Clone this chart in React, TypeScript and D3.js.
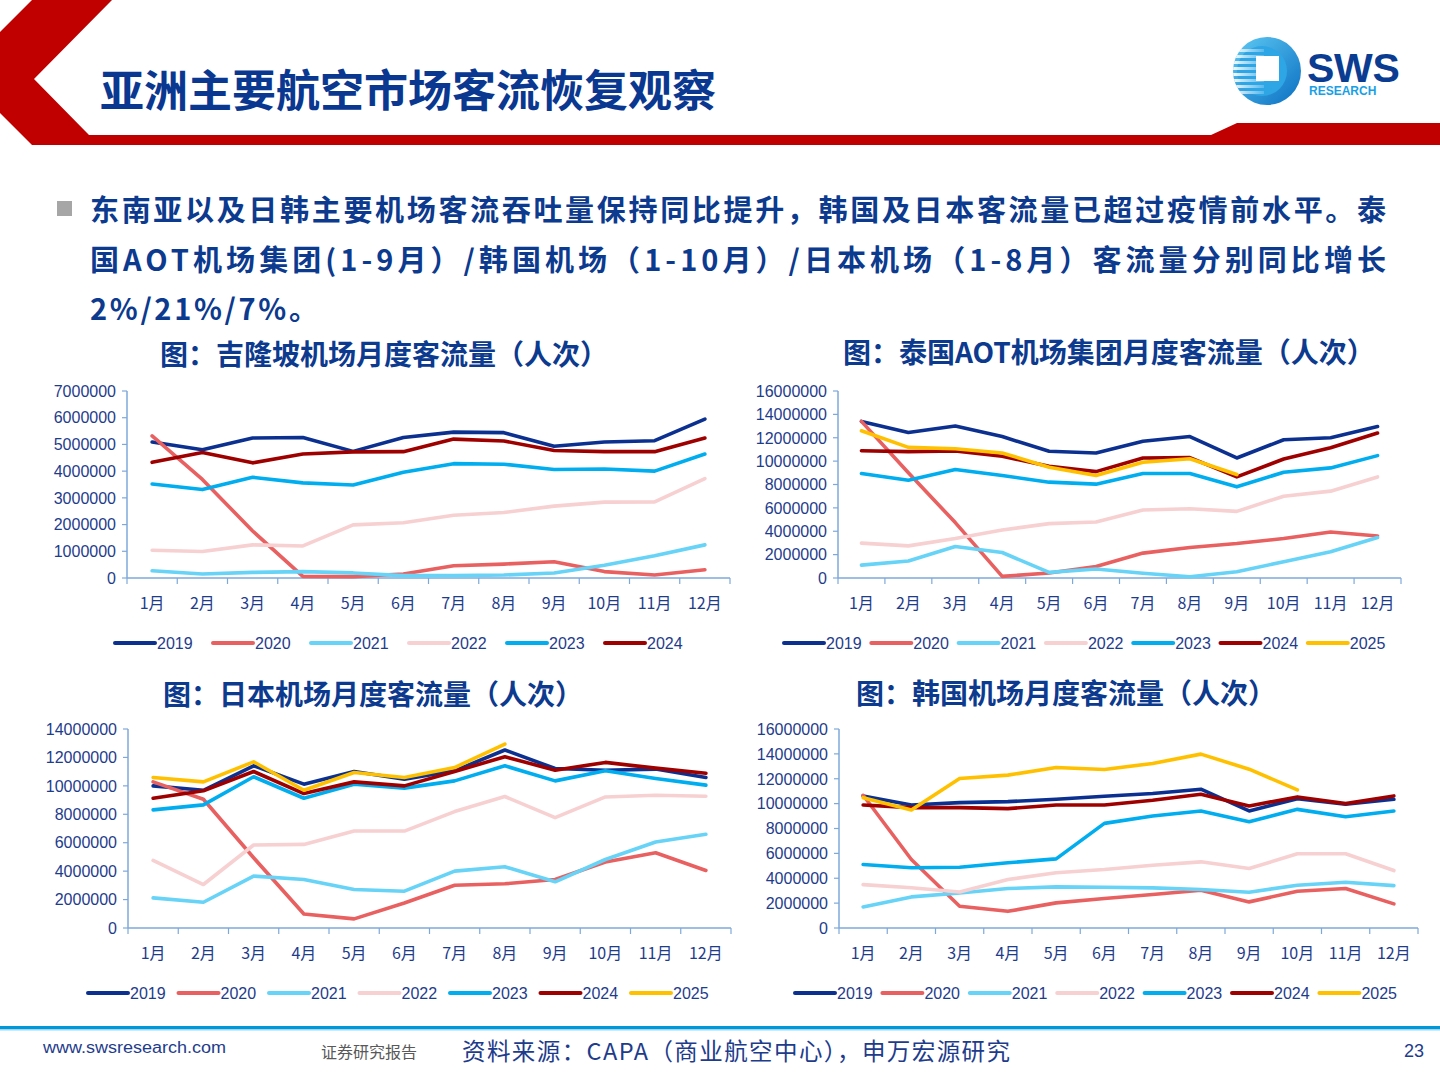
import * as d3 from "d3";

const MONTHS = ["1月", "2月", "3月", "4月", "5月", "6月", "7月", "8月", "9月", "10月", "11月", "12月"];

const YEAR_COLORS: Record<string, string> = {
  "2019": "#0B3090",
  "2020": "#E86060",
  "2021": "#66D3F7",
  "2022": "#F7D0D1",
  "2023": "#00AEEF",
  "2024": "#9E0000",
  "2025": "#FFC000",
};

// 吉隆坡 (单位: 人次)
const KUL_2019 = [5090000, 4800000, 5240000, 5260000, 4740000, 5260000, 5460000, 5440000, 4930000, 5090000, 5140000, 5950000];
const KUL_2020 = [5320000, 3690000, 1760000, 60000, 50000, 150000, 460000, 520000, 610000, 240000, 110000, 310000];
const KUL_2021 = [270000, 150000, 210000, 240000, 190000, 90000, 90000, 110000, 190000, 480000, 830000, 1240000];
const KUL_2022 = [1040000, 990000, 1240000, 1200000, 1990000, 2070000, 2350000, 2450000, 2690000, 2840000, 2850000, 3720000];
const KUL_2023 = [3520000, 3310000, 3770000, 3560000, 3480000, 3960000, 4280000, 4260000, 4060000, 4080000, 4000000, 4640000];
const KUL_2024 = [4330000, 4700000, 4310000, 4640000, 4720000, 4730000, 5200000, 5130000, 4770000, 4730000, 4730000, 5240000];

// 泰国AOT
const AOT_2019 = [13400000, 12450000, 13000000, 12100000, 10840000, 10700000, 11700000, 12100000, 10270000, 11830000, 12000000, 12960000];
const AOT_2020 = [13400000, 9000000, 4740000, 140000, 430000, 990000, 2130000, 2610000, 2950000, 3380000, 3940000, 3600000];
const AOT_2021 = [1100000, 1450000, 2700000, 2180000, 480000, 770000, 400000, 110000, 540000, 1390000, 2240000, 3460000];
const AOT_2022 = [2980000, 2750000, 3380000, 4110000, 4650000, 4790000, 5820000, 5930000, 5700000, 7000000, 7430000, 8650000];
const AOT_2023 = [8940000, 8370000, 9280000, 8770000, 8200000, 8030000, 8940000, 8940000, 7800000, 9050000, 9420000, 10470000];
const AOT_2024 = [10890000, 10810000, 10870000, 10410000, 9560000, 9100000, 10270000, 10300000, 8650000, 10180000, 11150000, 12400000];
const AOT_2025 = [12600000, 11180000, 11060000, 10700000, 9480000, 8770000, 9900000, 10210000, 8850000];

// 日本
const JPN_2019 = [10000000, 9690000, 11410000, 10120000, 11010000, 10470000, 11060000, 12520000, 11220000, 11100000, 11180000, 10590000];
const JPN_2020 = [10280000, 9060000, 4940000, 990000, 640000, 1760000, 3010000, 3110000, 3410000, 4640000, 5290000, 4050000];
const JPN_2021 = [2120000, 1810000, 3650000, 3410000, 2710000, 2590000, 4000000, 4310000, 3250000, 4820000, 6050000, 6590000];
const JPN_2022 = [4750000, 3060000, 5840000, 5880000, 6820000, 6820000, 8190000, 9250000, 7760000, 9220000, 9340000, 9270000];
const JPN_2023 = [8310000, 8660000, 10640000, 9130000, 10120000, 9840000, 10350000, 11410000, 10350000, 11060000, 10520000, 10050000];
const JPN_2024 = [9130000, 9650000, 11010000, 9460000, 10280000, 10000000, 11010000, 12050000, 11100000, 11650000, 11250000, 10890000];
const JPN_2025 = [10590000, 10280000, 11690000, 9690000, 10940000, 10590000, 11290000, 12940000];

// 韩国
const KOR_2019 = [10620000, 9890000, 10080000, 10160000, 10350000, 10590000, 10810000, 11160000, 9410000, 10400000, 9950000, 10350000];
const KOR_2020 = [10670000, 5510000, 1750000, 1340000, 2020000, 2370000, 2690000, 3040000, 2100000, 2960000, 3170000, 1940000];
const KOR_2021 = [1690000, 2500000, 2820000, 3170000, 3310000, 3280000, 3230000, 3090000, 2880000, 3440000, 3680000, 3410000];
const KOR_2022 = [3490000, 3230000, 2900000, 3900000, 4440000, 4700000, 5050000, 5320000, 4780000, 5970000, 5970000, 4620000];
const KOR_2023 = [5110000, 4840000, 4890000, 5240000, 5560000, 8410000, 9000000, 9410000, 8550000, 9540000, 8950000, 9410000];
const KOR_2024 = [9890000, 9680000, 9680000, 9600000, 9890000, 9890000, 10270000, 10750000, 9810000, 10540000, 10000000, 10620000];
const KOR_2025 = [10480000, 9490000, 12020000, 12290000, 12900000, 12740000, 13230000, 13980000, 12770000, 11100000];

const NAVY = "#0C3A8E";
const AXIS = "#7FA8DA";
const TICK_TEXT = "#1E3C8C";
const LATIN = "'Liberation Sans', Arial, sans-serif";
const CJK = "'Noto Sans CJK SC', sans-serif";

type Series = { year: string; values: number[] };

type ChartProps = {
  left: number;
  right: number;
  top: number;
  bottom: number;
  max: number;
  step: number;
  series: Series[];
  legendX: number;
  legendY: number;
  legendStep: number;
};

const LineChart = ({ left, right, top, bottom, max, step, series, legendX, legendY, legendStep }: ChartProps) => {
  const x = d3.scaleBand<string>().domain(MONTHS).range([left, right]).padding(0);
  const y = d3.scaleLinear().domain([0, max]).range([bottom, top]);
  const cx = (i: number) => (x(MONTHS[i]) ?? 0) + x.bandwidth() / 2;
  const line = d3
    .line<number>()
    .x((_, i) => cx(i))
    .y((d) => y(d));
  const yTicks = d3.range(0, max + 1, step);
  const bounds = [...MONTHS.map((m) => x(m) ?? 0), right];

  return (
    <g>
      {/* y axis */}
      <line x1={left} x2={left} y1={top} y2={bottom} stroke={AXIS} strokeWidth={1.5} />
      {yTicks.map((t) => (
        <g key={t}>
          <line x1={left - 5} x2={left} y1={y(t)} y2={y(t)} stroke={AXIS} strokeWidth={1.2} />
          <text
            x={left - 11}
            y={y(t)}
            dy="0.36em"
            textAnchor="end"
            fontSize={16}
            fontFamily={LATIN}
            fill={TICK_TEXT}
          >
            {d3.format("d")(t)}
          </text>
        </g>
      ))}
      {/* x axis */}
      <line x1={left} x2={right} y1={bottom} y2={bottom} stroke={AXIS} strokeWidth={1.5} />
      {bounds.map((b, i) => (
        <line key={i} x1={b} x2={b} y1={bottom} y2={bottom + 6} stroke={AXIS} strokeWidth={1.2} />
      ))}
      {MONTHS.map((m, i) => (
        <text
          key={m}
          x={cx(i)}
          y={bottom + 25}
          dy="0.36em"
          textAnchor="middle"
          fontSize={16}
          fontFamily={CJK}
          fill={TICK_TEXT}
        >
          {m}
        </text>
      ))}
      {series.map((s) => (
        <path
          key={s.year}
          d={line(s.values) ?? ""}
          fill="none"
          stroke={YEAR_COLORS[s.year]}
          strokeWidth={3.6}
          strokeLinejoin="round"
          strokeLinecap="round"
        />
      ))}
      {/* legend */}
      {series.map((s, i) => {
        const lx = legendX + i * legendStep;
        return (
          <g key={s.year}>
            <line
              x1={lx}
              x2={lx + 40}
              y1={legendY}
              y2={legendY}
              stroke={YEAR_COLORS[s.year]}
              strokeWidth={4}
              strokeLinecap="round"
            />
            <text x={lx + 42} y={legendY} dy="0.36em" fontSize={16} fontFamily={LATIN} fill={TICK_TEXT}>
              {s.year}
            </text>
          </g>
        );
      })}
    </g>
  );
};

const Logo = () => (
  <g>
    <defs>
      <linearGradient id="logoGrad" x1="0" y1="0" x2="1" y2="1">
        <stop offset="0%" stopColor="#5FCBF4" />
        <stop offset="100%" stopColor="#0A6FC2" />
      </linearGradient>
      <linearGradient id="stripeGrad" x1="0" y1="0" x2="1" y2="0">
        <stop offset="0%" stopColor="#ffffff" stopOpacity={0.95} />
        <stop offset="100%" stopColor="#ffffff" stopOpacity={0.2} />
      </linearGradient>
      <clipPath id="logoClip">
        <circle cx={1267} cy={71} r={34} />
      </clipPath>
    </defs>
    <circle cx={1267} cy={71} r={34} fill="url(#logoGrad)" />
    <circle cx={1262} cy={71} r={25} fill="#2EA6E6" />
    <g clipPath="url(#logoClip)">
      {d3.range(8).map((i) => (
        <rect key={i} x={1232} y={49 + i * 6} width={32} height={3} fill="url(#stripeGrad)" />
      ))}
    </g>
    <rect x={1256} y={56} width={23} height={25} fill="#ffffff" />
    <text x={1307} y={82} fontSize={41} fontWeight={700} fontFamily={LATIN} fill="#0A3C91" letterSpacing={-0.3}>
      SWS
    </text>
    <text x={1309} y={95} fontSize={12} fontWeight={700} fontFamily={LATIN} fill="#18A0E6">
      RESEARCH
    </text>
  </g>
);

export default function App() {
  const kul: Series[] = [
    { year: "2019", values: KUL_2019 },
    { year: "2020", values: KUL_2020 },
    { year: "2021", values: KUL_2021 },
    { year: "2022", values: KUL_2022 },
    { year: "2023", values: KUL_2023 },
    { year: "2024", values: KUL_2024 },
  ];
  const aot: Series[] = [
    { year: "2019", values: AOT_2019 },
    { year: "2020", values: AOT_2020 },
    { year: "2021", values: AOT_2021 },
    { year: "2022", values: AOT_2022 },
    { year: "2023", values: AOT_2023 },
    { year: "2024", values: AOT_2024 },
    { year: "2025", values: AOT_2025 },
  ];
  const jpn: Series[] = [
    { year: "2019", values: JPN_2019 },
    { year: "2020", values: JPN_2020 },
    { year: "2021", values: JPN_2021 },
    { year: "2022", values: JPN_2022 },
    { year: "2023", values: JPN_2023 },
    { year: "2024", values: JPN_2024 },
    { year: "2025", values: JPN_2025 },
  ];
  const kor: Series[] = [
    { year: "2019", values: KOR_2019 },
    { year: "2020", values: KOR_2020 },
    { year: "2021", values: KOR_2021 },
    { year: "2022", values: KOR_2022 },
    { year: "2023", values: KOR_2023 },
    { year: "2024", values: KOR_2024 },
    { year: "2025", values: KOR_2025 },
  ];

  return (
    <svg
      width={1440}
      height={1080}
      style={{ position: "absolute", left: 0, top: 0, background: "#ffffff" }}
    >
      {/* header */}
      <polygon points="32,0 112,0 34,79 89,135 1211,135 1237,123 1440,123 1440,145 32,145 0,113 0,32" fill="#C00000" />
      <text x={100} y={107} fontSize={44} fontWeight={700} fontFamily={CJK} fill="#0A3891">
        亚洲主要航空市场客流恢复观察
      </text>
      <Logo />

      {/* bullet paragraph */}
      <rect x={57} y={201} width={15} height={15} fill="#A6A6A6" />
      <g fontSize={29} fontWeight={700} fontFamily={CJK} fill={NAVY}>
        <text x={90} y={221} textLength={1296} lengthAdjust="spacing">
          东南亚以及日韩主要机场客流吞吐量保持同比提升，韩国及日本客流量已超过疫情前水平。泰
        </text>
        <text x={90} y={271} textLength={1296} lengthAdjust="spacing">
          国AOT机场集团(1-9月）/韩国机场（1-10月）/日本机场（1-8月）客流量分别同比增长
        </text>
        <text x={90} y={320} textLength={228} lengthAdjust="spacing">
          2%/21%/7%。
        </text>
      </g>

      {/* chart titles */}
      <g fontSize={28} fontWeight={700} fontFamily={CJK} fill={NAVY}>
        <text x={160} y={365}>图：吉隆坡机场月度客流量（人次）</text>
        <text x={843} y={363}>图：泰国AOT机场集团月度客流量（人次）</text>
        <text x={163} y={705}>图：日本机场月度客流量（人次）</text>
        <text x={856} y={704}>图：韩国机场月度客流量（人次）</text>
      </g>

      <LineChart left={127} right={730} top={391} bottom={578} max={7000000} step={1000000} series={kul} legendX={115} legendY={643} legendStep={98} />
      <LineChart left={838} right={1401} top={391} bottom={578} max={16000000} step={2000000} series={aot} legendX={784} legendY={643} legendStep={87.3} />
      <LineChart left={128} right={731} top={729} bottom={928} max={14000000} step={2000000} series={jpn} legendX={88} legendY={993} legendStep={90.5} />
      <LineChart left={839} right={1418} top={729} bottom={928} max={16000000} step={2000000} series={kor} legendX={795} legendY={993} legendStep={87.4} />

      {/* footer */}
      <rect x={0} y={1026} width={1440} height={3} fill="#0098D8" />
      <rect x={0} y={1029} width={1440} height={1.5} fill="#9AD8F2" />
      <text x={43} y={1053} fontSize={16} fontFamily={LATIN} fill="#1E3C8C" textLength={183} lengthAdjust="spacingAndGlyphs">
        www.swsresearch.com
      </text>
      <text x={321} y={1058} fontSize={16} fontFamily={CJK} fill="#595959">
        证券研究报告
      </text>
      <text x={462} y={1060} fontSize={23.5} fontFamily={CJK} fill="#1E3C8C" textLength={548} lengthAdjust="spacing">
        资料来源：CAPA（商业航空中心），申万宏源研究
      </text>
      <text x={1424} y={1057} fontSize={18} fontFamily={LATIN} fill="#1E3C8C" textAnchor="end">
        23
      </text>
    </svg>
  );
}
